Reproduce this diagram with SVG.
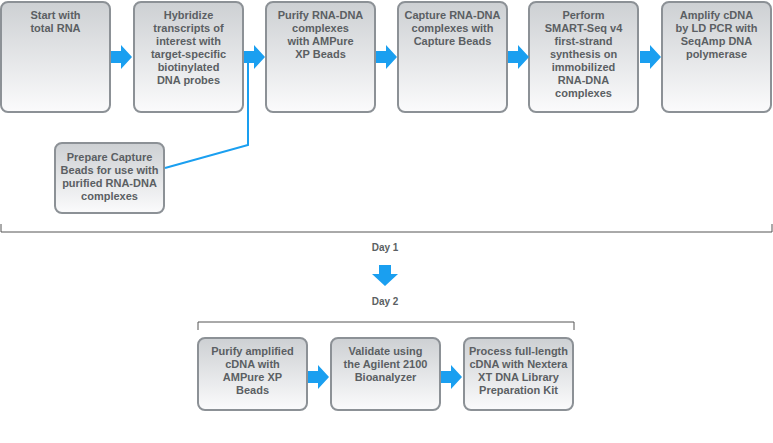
<svg xmlns="http://www.w3.org/2000/svg" width="773" height="443" viewBox="0 0 773 443">
<style>
.b{fill:url(#g);stroke:#8c9196;stroke-width:2}
text{font-family:"Liberation Sans",Arial,sans-serif;font-weight:bold;font-size:11px;fill:#5b5f63;text-anchor:middle}
.a{fill:#1a9ff0}
</style>
<defs>
<linearGradient id="g" x1="0" y1="0" x2="0" y2="1"><stop offset="0" stop-color="#cdd0d3"/><stop offset="1" stop-color="#fbfbfc"/></linearGradient>
<path id="ar" d="M0,-6H10V-12L21,0L10,12V6H0Z"/>
</defs>
<g id="n1"><rect class="b" x="1" y="2" width="109" height="110" rx="7"/><text x="55.5" y="19">Start with</text><text x="55.5" y="32">total RNA</text></g>
<g id="n2"><rect class="b" x="134" y="2" width="109" height="110" rx="7"/><text x="188.5" y="19">Hybridize</text><text x="188.5" y="32">transcripts of</text><text x="188.5" y="45">interest with</text><text x="188.5" y="58">target-specific</text><text x="188.5" y="71">biotinylated</text><text x="188.5" y="84">DNA probes</text></g>
<g id="n3"><rect class="b" x="266" y="2" width="109" height="110" rx="7"/><text x="320.5" y="19">Purify RNA-DNA</text><text x="320.5" y="32">complexes</text><text x="320.5" y="45">with AMPure</text><text x="320.5" y="58">XP Beads</text></g>
<g id="n4"><rect class="b" x="398" y="2" width="109" height="110" rx="7"/><text x="452.5" y="19">Capture RNA-DNA</text><text x="452.5" y="32">complexes with</text><text x="452.5" y="45">Capture Beads</text></g>
<g id="n5"><rect class="b" x="529" y="2" width="109" height="110" rx="7"/><text x="583.5" y="19">Perform</text><text x="583.5" y="32">SMART-Seq v4</text><text x="583.5" y="45">first-strand</text><text x="583.5" y="58">synthesis on</text><text x="583.5" y="71">immobilized</text><text x="583.5" y="84">RNA-DNA</text><text x="583.5" y="97">complexes</text></g>
<g id="n6"><rect class="b" x="662" y="2" width="109" height="110" rx="7"/><text x="716.5" y="19">Amplify cDNA</text><text x="716.5" y="32">by LD PCR with</text><text x="716.5" y="45">SeqAmp DNA</text><text x="716.5" y="58">polymerase</text></g>
<g id="n7"><rect class="b" x="55" y="143" width="109" height="70" rx="7"/><text x="109.5" y="161">Prepare Capture</text><text x="109.5" y="174">Beads for use with</text><text x="109.5" y="187">purified RNA-DNA</text><text x="109.5" y="200">complexes</text></g>
<g id="n8"><rect class="b" x="198" y="338" width="109" height="72" rx="7"/><text x="252.5" y="355">Purify amplified</text><text x="252.5" y="368">cDNA with</text><text x="252.5" y="381">AMPure XP</text><text x="252.5" y="394">Beads</text></g>
<g id="n9"><rect class="b" x="331" y="338" width="109" height="72" rx="7"/><text x="385.5" y="355">Validate using</text><text x="385.5" y="368">the Agilent 2100</text><text x="385.5" y="381">Bioanalyzer</text></g>
<g id="n10"><rect class="b" x="464" y="338" width="109" height="72" rx="7"/><text x="518.5" y="355">Process full-length</text><text x="518.5" y="368">cDNA with Nextera</text><text x="518.5" y="381">XT DNA Library</text><text x="518.5" y="394">Preparation Kit</text></g>
<g id="connectors">
<use href="#ar" class="a" x="111" y="57"/>
<use href="#ar" class="a" x="244" y="57"/>
<use href="#ar" class="a" x="376" y="57"/>
<use href="#ar" class="a" x="508" y="57"/>
<use href="#ar" class="a" x="640" y="57"/>
<use href="#ar" class="a" x="308" y="377"/>
<use href="#ar" class="a" x="441" y="377"/>
<path d="M248,62V145L165,168" fill="none" stroke="#1a9ff0" stroke-width="2"/>
<path d="M1,224V232H772V224" fill="none" stroke="#555" stroke-width="1"/>
<path d="M198,330V322H574V330" fill="none" stroke="#555" stroke-width="1"/>
<path d="M379,265H391V274H398L385,286L372,274H379Z" class="a"/>
</g>
<text x="385" y="251" style="font-size:10px">Day 1</text>
<text x="385" y="305" style="font-size:10px">Day 2</text>
</svg>
